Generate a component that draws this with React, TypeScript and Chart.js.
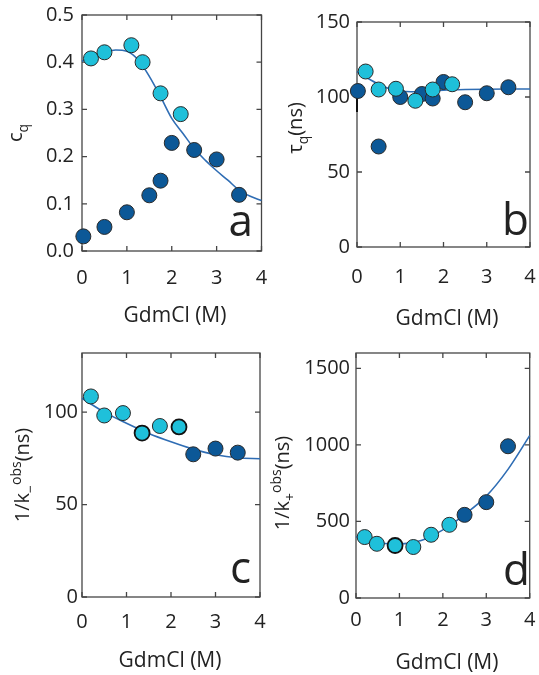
import { useEffect, useRef } from "react";
import { Chart, registerables } from "chart.js";

Chart.register(...registerables);

const CYAN = "#1fc0da";
const DARK = "#0c5897";
const FIT = "#2f6db4";
const EDGE = "#2a2a2a";
const FRAME = "#454545";
const TEXT = "#222222";
const FONT = "'Open Sans', 'Noto Sans', sans-serif";

const xTickValues = [0, 1, 2, 3, 4];
const xTitle = "GdmCl (M)";

// ---- panel a : c_q ----
const aYTicks = [0, 0.1, 0.2, 0.3, 0.4, 0.5];
const aCyanX = [0.2, 0.5, 1.1, 1.35, 1.75, 2.2];
const aCyanY = [0.408, 0.421, 0.436, 0.4, 0.334, 0.29];
const aDarkX = [0.03, 0.5, 1.0, 1.5, 1.75, 2.0, 2.5, 3.0, 3.5];
const aDarkY = [0.031, 0.051, 0.082, 0.118, 0.149, 0.229, 0.214, 0.194, 0.119];
const aFitX = [0, 0.25, 0.5, 0.75, 1, 1.25, 1.5, 1.75, 2, 2.25, 2.5, 2.75, 3, 3.25, 3.5, 3.75, 4];
const aFitY = [0.402, 0.413, 0.421, 0.426, 0.423, 0.405, 0.37, 0.327, 0.281, 0.249, 0.217, 0.192, 0.17, 0.15, 0.129, 0.116, 0.107];

// ---- panel b : tau_q ----
const bYTicks = [0, 50, 100, 150];
const bCyanX = [0.2, 0.5, 0.9, 1.35, 1.75, 2.2];
const bCyanY = [117, 105, 105.5, 97.5, 105, 108.5];
const bDarkX = [0.02, 0.5, 1.0, 1.5, 1.75, 2.0, 2.5, 3.0, 3.5];
const bDarkY = [104, 67, 100, 102, 99, 110, 96.5, 102.5, 106.5];
const bErrX = [0, 0];
const bErrY = [90, 108];
const bFitX = [0, 0.25, 0.5, 0.75, 1, 1.25, 1.5, 2, 2.5, 3, 3.5, 4];
const bFitY = [117, 112.5, 108.5, 105.5, 104, 103.5, 103.8, 104.6, 105, 105.2, 105.3, 105.3];

// ---- panel c : 1/k_- ----
const cYTicks = [0, 50, 100];
const cCyanX = [0.2, 0.5, 0.92, 1.35, 1.75, 2.18];
const cCyanY = [108.5, 98.2, 99.5, 88.7, 92.5, 92];
const cCyanEdge = [1, 1, 1, 2, 1, 2];
const cDarkX = [2.5, 3.0, 3.5];
const cDarkY = [77.2, 80.3, 78.1];
const cFitX = [0, 0.5, 1, 1.5, 2, 2.5, 3, 3.5, 4];
const cFitY = [107.5, 100, 94, 88.5, 84, 80, 77, 75.3, 74.8];

// ---- panel d : 1/k_+ ----
const dYTicks = [0, 500, 1000, 1500];
const dCyanX = [0.2, 0.48, 0.9, 1.32, 1.73, 2.15];
const dCyanY = [398, 354, 343, 333, 413, 478];
const dCyanEdge = [1, 1, 2, 1, 1, 1];
const dDarkX = [2.5, 3.0, 3.5];
const dDarkY = [543, 626, 991];
const dFitX = [0, 0.5, 1, 1.5, 2, 2.5, 3, 3.5, 4];
const dFitY = [400, 362, 352, 375, 445, 545, 665, 840, 1060];

type Seg = { t: string; k?: "sub" | "sup" };

const zip = (xs: number[], ys: number[]) => xs.map((x, i) => ({ x, y: ys[i] }));

type Spec = {
  key: string;
  left: number;
  top: number;
  w: number;
  h: number;
  padTop: number;
  padRight: number;
  yW: number;
  xH: number;
  xPad: number;
  yPad: number;
  yMax: number;
  yTicks: number[];
  yFmt: (v: number) => string;
  cyanX: number[];
  cyanY: number[];
  cyanEdge?: number[];
  darkX: number[];
  darkY: number[];
  errX?: number[];
  errY?: number[];
  fitX: number[];
  fitY: number[];
  yTitle: Seg[];
  yTitleX: number;
  yTitleY: number;
  xTitleX: number;
  xTitleY: number;
  letter: string;
  letterX: number;
  letterY: number;
};

const specs: Spec[] = [
  {
    key: "a", left: 0, top: 0, w: 270, h: 330,
    padTop: 15, padRight: 5, yW: 82, xH: 79, xPad: 15, yPad: 8,
    yMax: 0.5, yTicks: aYTicks, yFmt: (v) => v.toFixed(1),
    cyanX: aCyanX, cyanY: aCyanY, darkX: aDarkX, darkY: aDarkY,
    fitX: aFitX, fitY: aFitY,
    yTitle: [{ t: "c" }, { t: "q", k: "sub" }], yTitleX: 22, yTitleY: 133,
    xTitleX: 175, xTitleY: 322, letter: "a", letterX: 253, letterY: 236,
  },
  {
    key: "b", left: 270, top: 0, w: 269, h: 330,
    padTop: 22, padRight: 9, yW: 87, xH: 83, xPad: 18, yPad: 7,
    yMax: 150, yTicks: bYTicks, yFmt: (v) => String(v),
    cyanX: bCyanX, cyanY: bCyanY, darkX: bDarkX, darkY: bDarkY,
    errX: bErrX, errY: bErrY, fitX: bFitX, fitY: bFitY,
    yTitle: [{ t: "\u03c4" }, { t: "q", k: "sub" }, { t: "(ns)" }], yTitleX: 32, yTitleY: 128,
    xTitleX: 177, xTitleY: 325, letter: "b", letterX: 259, letterY: 235,
  },
  {
    key: "c", left: 0, top: 330, w: 270, h: 345,
    padTop: 23, padRight: 10, yW: 82, xH: 78, xPad: 13, yPad: 4,
    yMax: 132, yTicks: cYTicks, yFmt: (v) => String(v),
    cyanX: cCyanX, cyanY: cCyanY, cyanEdge: cCyanEdge, darkX: cDarkX, darkY: cDarkY,
    fitX: cFitX, fitY: cFitY,
    yTitle: [{ t: "1/k" }, { t: "\u2212", k: "sub" }, { t: "obs", k: "sup" }, { t: "(ns)" }], yTitleX: 29, yTitleY: 145,
    xTitleX: 170, xTitleY: 337, letter: "c", letterX: 251, letterY: 253,
  },
  {
    key: "d", left: 270, top: 330, w: 269, h: 345,
    padTop: 23, padRight: 4, yW: 86, xH: 77, xPad: 10, yPad: 6,
    yMax: 1600, yTicks: dYTicks, yFmt: (v) => String(v),
    cyanX: dCyanX, cyanY: dCyanY, cyanEdge: dCyanEdge, darkX: dDarkX, darkY: dDarkY,
    fitX: dFitX, fitY: dFitY,
    yTitle: [{ t: "1/k" }, { t: "+", k: "sub" }, { t: "obs", k: "sup" }, { t: "(ns)" }], yTitleX: 19, yTitleY: 153,
    xTitleX: 177, xTitleY: 339, letter: "d", letterX: 260, letterY: 255,
  },
];

function drawRich(ctx: CanvasRenderingContext2D, segs: Seg[], bx: number, cy: number, size: number) {
  const small = Math.round(size * 0.68);
  const fontFor = (k?: string) => `${k ? small : size}px ${FONT}`;
  let total = 0;
  const widths = segs.map((s) => {
    ctx.font = fontFor(s.k);
    const w = ctx.measureText(s.t).width;
    total += w;
    return w;
  });
  ctx.save();
  ctx.translate(bx, cy);
  ctx.rotate(-Math.PI / 2);
  ctx.fillStyle = TEXT;
  ctx.textBaseline = "alphabetic";
  ctx.textAlign = "left";
  let cur = -total / 2;
  segs.forEach((s, i) => {
    ctx.font = fontFor(s.k);
    const dy = s.k === "sub" ? size * 0.28 : s.k === "sup" ? -size * 0.42 : 0;
    ctx.fillText(s.t, cur, dy);
    cur += widths[i];
  });
  ctx.restore();
}

const decor = {
  id: "decor",
  beforeDatasetsDraw(chart: any) {
    const { ctx, chartArea: ca, scales } = chart;
    ctx.save();
    ctx.strokeStyle = FRAME;
    ctx.lineWidth = 1.3;
    ctx.strokeRect(ca.left, ca.top, ca.right - ca.left, ca.bottom - ca.top);
    const tl = 5;
    ctx.beginPath();
    scales.x.ticks.forEach((t: any) => {
      const p = scales.x.getPixelForValue(t.value);
      ctx.moveTo(p, ca.bottom);
      ctx.lineTo(p, ca.bottom - tl);
      ctx.moveTo(p, ca.top);
      ctx.lineTo(p, ca.top + tl);
    });
    scales.y.ticks.forEach((t: any) => {
      const p = scales.y.getPixelForValue(t.value);
      ctx.moveTo(ca.left, p);
      ctx.lineTo(ca.left + tl, p);
      ctx.moveTo(ca.right, p);
      ctx.lineTo(ca.right - tl, p);
    });
    ctx.stroke();
    ctx.restore();
  },
  afterDraw(chart: any, _args: any, opts: any) {
    const s: Spec = opts.spec;
    if (!s) return;
    const ctx = chart.ctx as CanvasRenderingContext2D;
    ctx.save();
    ctx.fillStyle = TEXT;
    ctx.font = `21px ${FONT}`;
    ctx.textAlign = "center";
    ctx.textBaseline = "alphabetic";
    ctx.fillText(xTitle, s.xTitleX, s.xTitleY);
    ctx.font = `44px ${FONT}`;
    ctx.textAlign = "right";
    ctx.fillText(s.letter, s.letterX, s.letterY);
    ctx.restore();
    drawRich(ctx, s.yTitle, s.yTitleX, s.yTitleY, 20);
  },
};

function buildConfig(s: Spec): any {
  const datasets: any[] = [
    {
      data: zip(s.cyanX, s.cyanY),
      backgroundColor: CYAN,
      borderColor: s.cyanEdge ? s.cyanEdge.map((w) => (w > 1 ? "#111111" : EDGE)) : EDGE,
      borderWidth: s.cyanEdge ? s.cyanEdge.map((w) => (w > 1 ? 1.8 : 1)) : 1,
      pointRadius: 7.5,
      clip: false,
    },
    {
      data: zip(s.darkX, s.darkY),
      backgroundColor: DARK,
      borderColor: EDGE,
      borderWidth: 1,
      pointRadius: 7.5,
      clip: false,
    },
  ];
  if (s.errX && s.errY) {
    datasets.push({
      data: zip(s.errX, s.errY),
      showLine: true,
      borderColor: "#111111",
      borderWidth: 2,
      pointRadius: 0,
      clip: false,
    });
  }
  datasets.push({
    data: zip(s.fitX, s.fitY),
    showLine: true,
    borderColor: FIT,
    borderWidth: 1.6,
    pointRadius: 0,
    cubicInterpolationMode: "monotone",
    fill: false,
    clip: false,
  });

  const tickFont = { family: FONT, size: 20 };
  return {
    type: "scatter",
    data: { datasets },
    plugins: [decor],
    options: {
      responsive: false,
      maintainAspectRatio: false,
      animation: false,
      events: [],
      layout: { padding: { left: 0, top: s.padTop, right: s.padRight, bottom: 0 } },
      plugins: {
        legend: { display: false },
        tooltip: { enabled: false },
        decor: { spec: s },
      },
      scales: {
        x: {
          type: "linear",
          min: 0,
          max: 4,
          afterBuildTicks: (sc: any) => {
            sc.ticks = xTickValues.map((v) => ({ value: v }));
          },
          grid: { display: false, drawTicks: false },
          border: { display: false },
          ticks: {
            font: tickFont,
            color: TEXT,
            padding: s.xPad,
            maxRotation: 0,
            autoSkip: false,
            callback: (v: number) => String(v),
          },
          afterFit: (sc: any) => {
            sc.height = s.xH;
            sc.paddingLeft = 0;
            sc.paddingRight = 0;
          },
        },
        y: {
          type: "linear",
          min: 0,
          max: s.yMax,
          afterBuildTicks: (sc: any) => {
            sc.ticks = s.yTicks.map((v) => ({ value: v }));
          },
          grid: { display: false, drawTicks: false },
          border: { display: false },
          ticks: {
            font: tickFont,
            color: TEXT,
            padding: s.yPad,
            autoSkip: false,
            callback: (v: number) => s.yFmt(v),
          },
          afterFit: (sc: any) => {
            sc.width = s.yW;
            sc.paddingTop = 0;
            sc.paddingBottom = 0;
          },
        },
      },
    },
  };
}

function Panel({ spec }: { spec: Spec }) {
  const ref = useRef<HTMLCanvasElement | null>(null);
  useEffect(() => {
    if (!ref.current) return;
    const chart = new Chart(ref.current, buildConfig(spec));
    return () => chart.destroy();
  }, [spec]);
  return (
    <canvas
      ref={ref}
      width={spec.w}
      height={spec.h}
      style={{ position: "absolute", left: spec.left, top: spec.top, width: spec.w, height: spec.h }}
    />
  );
}

export default function App() {
  return (
    <div style={{ position: "absolute", left: 0, top: 0, width: 539, height: 675, background: "#ffffff", overflow: "hidden" }}>
      {specs.map((s) => (
        <Panel key={s.key} spec={s} />
      ))}
    </div>
  );
}
